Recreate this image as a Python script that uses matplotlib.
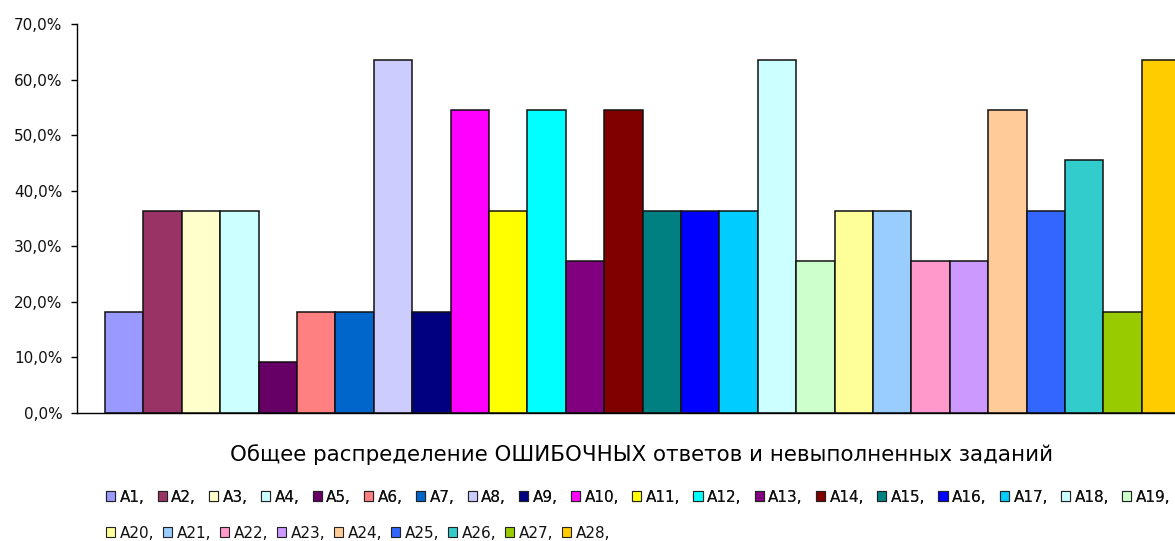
import numpy as np
import matplotlib.pyplot as plt
from matplotlib.patches import Patch
from matplotlib.ticker import FuncFormatter, MultipleLocator

plt.rcParams['font.family'] = ['DejaVu Sans']

labels = ['A%d' % i for i in range(1, 29)]
values = [18.2, 36.4, 36.4, 36.4, 9.1, 18.2, 18.2, 63.6, 18.2, 54.5,
          36.4, 54.5, 27.3, 54.5, 36.4, 36.4, 36.4, 63.6, 27.3, 36.4,
          36.4, 27.3, 27.3, 54.5, 36.4, 45.5, 18.2, 63.6]
colors = ['#9999FF', '#993366', '#FFFFCC', '#CCFFFF', '#660066', '#FF8080',
          '#0066CC', '#CCCCFF', '#000080', '#FF00FF', '#FFFF00', '#00FFFF',
          '#800080', '#800000', '#008080', '#0000FF', '#00CCFF', '#CCFFFF',
          '#CCFFCC', '#FFFF99', '#99CCFF', '#FF99CC', '#CC99FF', '#FFCC99',
          '#3366FF', '#33CCCC', '#99CC00', '#FFCC00']
title = 'Общее распределение ОШИБОЧНЫХ ответов и невыполненных заданий'

W, H = 1175, 541
fig = plt.figure(figsize=(W / 100, H / 100), dpi=100)
ax = fig.add_axes([77 / W, (H - 413) / H, 1 - 77 / W, (413 - 24) / H])

x = np.arange(len(values))
ax.bar(x, values, width=1.0, align='edge', color=colors,
       edgecolor='#111111', linewidth=1.1)

bw = 38.4
left = -(105 - 77) / bw
ax.set_xlim(left, left + (W - 77) / bw)
ax.set_ylim(0, 70)
ax.yaxis.set_major_locator(MultipleLocator(10))
ax.yaxis.set_major_formatter(FuncFormatter(lambda v, p: ('%.1f%%' % v).replace('.', ',')))
ax.tick_params(axis='y', direction='out', length=4.5, width=1, labelsize=11,
               pad=6, labelcolor='#111111')
ax.set_xticks([])
for s in ['top', 'right']:
    ax.spines[s].set_visible(False)
ax.spines['left'].set_linewidth(1)
ax.spines['bottom'].set_linewidth(1)

fig.text(642 / W, (H - 455) / H, title, ha='center', va='center', fontsize=15.4)

handles = [Patch(facecolor=c, edgecolor='#222222', linewidth=0.8, label=l + ',')
           for c, l in zip(colors, labels)]
common = dict(frameon=False, fontsize=11, handlelength=0.6, handleheight=0.6,
              handletextpad=0.3, borderaxespad=0, borderpad=0, labelcolor='#111111')
leg1 = fig.legend(handles=handles[:19], ncol=19, loc='center left',
                  bbox_to_anchor=(106 / W, (H - 497) / H), columnspacing=0.85, **common)
fig.add_artist(leg1)
fig.legend(handles=handles[19:], ncol=9, loc='center left',
           bbox_to_anchor=(106 / W, (H - 533) / H), columnspacing=0.57, **common)

fig.savefig('out.png', dpi=100)
